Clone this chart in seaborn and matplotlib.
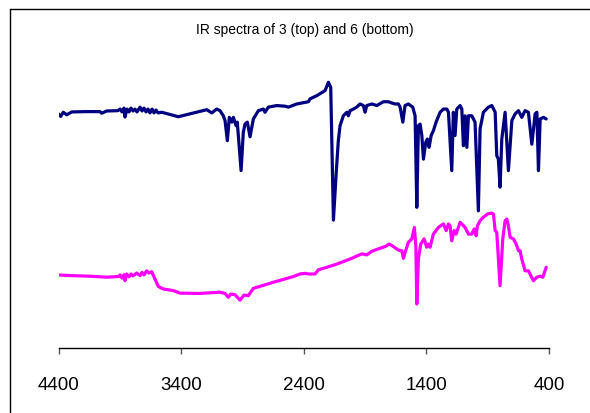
import matplotlib
matplotlib.use("Agg")
import matplotlib.pyplot as plt
import seaborn as sns
import pandas as pd
from matplotlib.lines import Line2D

# Wavenumber (cm-1) and transmittance (arbitrary units) for compound 3 (top)
wn_top = [4400, 4382, 4361, 4333, 4292, 4184, 4061, 4048, 4007, 3915,
          3898, 3882, 3866, 3858, 3841, 3825, 3809, 3792, 3776, 3760,
          3735, 3719, 3703, 3686, 3670, 3654, 3637, 3621, 3605, 3588,
          3558, 3491, 3423, 3327, 3191, 3150, 3110, 3083, 3056, 3042,
          3023, 3007, 2987, 2974, 2952, 2942, 2911, 2893, 2879, 2860,
          2838, 2824, 2811, 2770, 2729, 2716, 2689, 2620, 2552, 2525,
          2457, 2362, 2349, 2294, 2226, 2199, 2180, 2158, 2136, 2118,
          2104, 2077, 2049, 2036, 2022, 1995, 1968, 1941, 1914, 1900,
          1886, 1845, 1804, 1751, 1710, 1682, 1655, 1628, 1614, 1592,
          1574, 1547, 1511, 1492, 1478, 1465, 1451, 1437, 1424, 1405,
          1392, 1378, 1361, 1343, 1321, 1288, 1261, 1233, 1220, 1193,
          1180, 1166, 1152, 1125, 1111, 1098, 1084, 1070, 1057, 1030,
          1003, 976, 962, 935, 894, 866, 839, 826, 813, 799,
          785, 758, 731, 703, 676, 649, 622, 595, 568, 540,
          513, 499, 486, 472, 445, 423]
t_top = [73.4, 72.6, 73.9, 73.1, 74.0, 74.1, 74.1, 73.6, 74.3, 74.4,
         74.9, 74.0, 75.2, 72.4, 74.9, 74.0, 75.2, 74.3, 74.9, 74.0,
         75.5, 74.3, 75.2, 74.0, 74.9, 73.7, 74.9, 73.7, 74.6, 73.7,
         73.9, 73.2, 72.5, 73.4, 74.7, 73.7, 74.9, 74.4, 72.8, 71.3,
         65.0, 72.3, 70.8, 72.3, 69.7, 70.8, 55.6, 67.6, 70.2, 70.8,
         66.2, 69.2, 71.8, 74.4, 74.9, 73.9, 75.5, 76.0, 75.8, 75.5,
         76.5, 77.2, 78.1, 79.1, 80.7, 83.3, 81.7, 40.1, 54.5, 65.0,
         69.7, 72.8, 73.9, 72.8, 74.4, 74.9, 75.5, 76.5, 76.0, 73.9,
         76.0, 76.5, 76.0, 77.2, 77.2, 76.8, 76.5, 76.5, 75.5, 70.8,
         76.0, 76.5, 75.5, 72.8, 44.1, 69.7, 70.2, 66.6, 59.2, 64.5,
         65.5, 62.9, 66.6, 68.1, 70.8, 73.9, 74.9, 74.9, 73.9, 55.6,
         73.9, 66.6, 74.9, 76.0, 74.9, 63.4, 72.8, 62.9, 72.8, 72.8,
         70.8, 43.0, 68.7, 73.9, 75.5, 76.0, 73.9, 60.3, 59.2, 50.4,
         65.5, 73.9, 55.6, 71.3, 73.4, 74.4, 72.3, 74.4, 73.9, 63.9,
         73.4, 73.9, 55.6, 71.8, 72.3, 71.8]

# Compound 6 (bottom)
wn_bot = [4400, 4306, 4143, 4007, 3912, 3898, 3882, 3866, 3858, 3844,
          3825, 3809, 3792, 3762, 3735, 3719, 3703, 3681, 3662, 3640,
          3613, 3586, 3545, 3464, 3409, 3246, 3083, 3042, 3015, 2995,
          2960, 2920, 2887, 2852, 2811, 2648, 2485, 2431, 2389, 2362,
          2308, 2281, 2212, 2131, 2022, 1927, 1886, 1845, 1776, 1736,
          1702, 1669, 1628, 1601, 1587, 1565, 1547, 1519, 1498, 1486,
          1478, 1465, 1446, 1419, 1397, 1384, 1370, 1343, 1302, 1261,
          1239, 1220, 1207, 1193, 1174, 1158, 1125, 1084, 1057, 1030,
          1011, 994, 984, 962, 935, 902, 866, 853, 839, 826,
          799, 777, 758, 744, 731, 717, 690, 668, 649, 636,
          622, 595, 568, 527, 499, 472, 450, 423]
t_bot = [22.9, 22.7, 22.5, 22.2, 22.4, 22.9, 21.9, 23.0, 21.1, 23.2,
         22.3, 23.2, 22.6, 23.5, 22.7, 23.7, 22.9, 24.2, 23.5, 23.9,
         21.6, 19.3, 18.5, 18.0, 17.2, 17.1, 17.5, 17.1, 15.9, 16.9,
         16.7, 15.0, 16.6, 16.4, 18.7, 20.6, 22.4, 23.2, 23.4, 23.2,
         23.2, 24.5, 25.3, 26.3, 27.9, 29.5, 29.2, 30.3, 31.3, 31.8,
         32.6, 31.8, 30.7, 30.5, 28.1, 31.0, 33.1, 34.2, 37.8, 32.1,
         13.8, 27.9, 32.6, 34.2, 31.6, 32.6, 31.6, 35.7, 37.8, 38.9,
         36.8, 38.9, 38.3, 33.6, 36.8, 35.7, 39.4, 37.8, 35.7, 35.7,
         37.3, 35.2, 38.3, 39.9, 41.0, 42.0, 42.3, 42.0, 36.8, 36.3,
         19.5, 34.2, 39.9, 40.4, 38.3, 34.7, 34.2, 32.6, 30.5, 30.5,
         27.9, 24.2, 24.2, 21.1, 22.2, 22.5, 22.2, 25.3]

x_ticks = [4400, 3400, 2400, 1400, 400]
title = "IR spectra of 3 (top) and 6 (bottom)"

sns.set_theme(style="white")
plt.rcParams['font.family'] = ['Liberation Sans', 'DejaVu Sans']

W, H = 590, 414
fig = plt.figure(figsize=(W / 100, H / 100), dpi=100)
ax = fig.add_axes([58.5 / W, 1 - 349 / H, (549 - 58.5) / W, (349 - 30) / H])

df_top = pd.DataFrame({"wn": wn_top, "t": t_top})
df_bot = pd.DataFrame({"wn": wn_bot, "t": t_bot})
sns.lineplot(data=df_top, x="wn", y="t", ax=ax, color="#000080", lw=2.3,
             estimator=None, sort=False, solid_joinstyle="round",
             solid_capstyle="round")
sns.lineplot(data=df_bot, x="wn", y="t", ax=ax, color="#FF00FF", lw=2.3,
             estimator=None, sort=False, solid_joinstyle="round",
             solid_capstyle="round")

ax.set_xlim(4400, 400)
ax.set_ylim(0, 100)
ax.set_xticks(x_ticks)
ax.set_xticklabels([str(v) for v in x_ticks], fontsize=13.5, color="black")
ax.set_yticks([])
ax.set_xlabel("")
ax.set_ylabel("")
for s in ["top", "right", "left"]:
    ax.spines[s].set_visible(False)
ax.spines["bottom"].set_color("black")
ax.spines["bottom"].set_linewidth(1.0)
ax.tick_params(axis="x", direction="out", length=4, width=1, color="#555555",
               pad=16, bottom=True)
ax.patch.set_alpha(0)

fig.text(305 / W, 1 - 30 / H, title, ha="center", va="center", fontsize=10,
         color="black")

# outer chart frame (left and top edges visible)
fig.add_artist(Line2D([9.5 / W, 9.5 / W], [0, 1 - 9.5 / H], transform=fig.transFigure,
                      color="black", lw=1.0))
fig.add_artist(Line2D([9.5 / W, 1], [1 - 9.5 / H, 1 - 9.5 / H], transform=fig.transFigure,
                      color="black", lw=1.0))

fig.savefig("out.png", dpi=100)
